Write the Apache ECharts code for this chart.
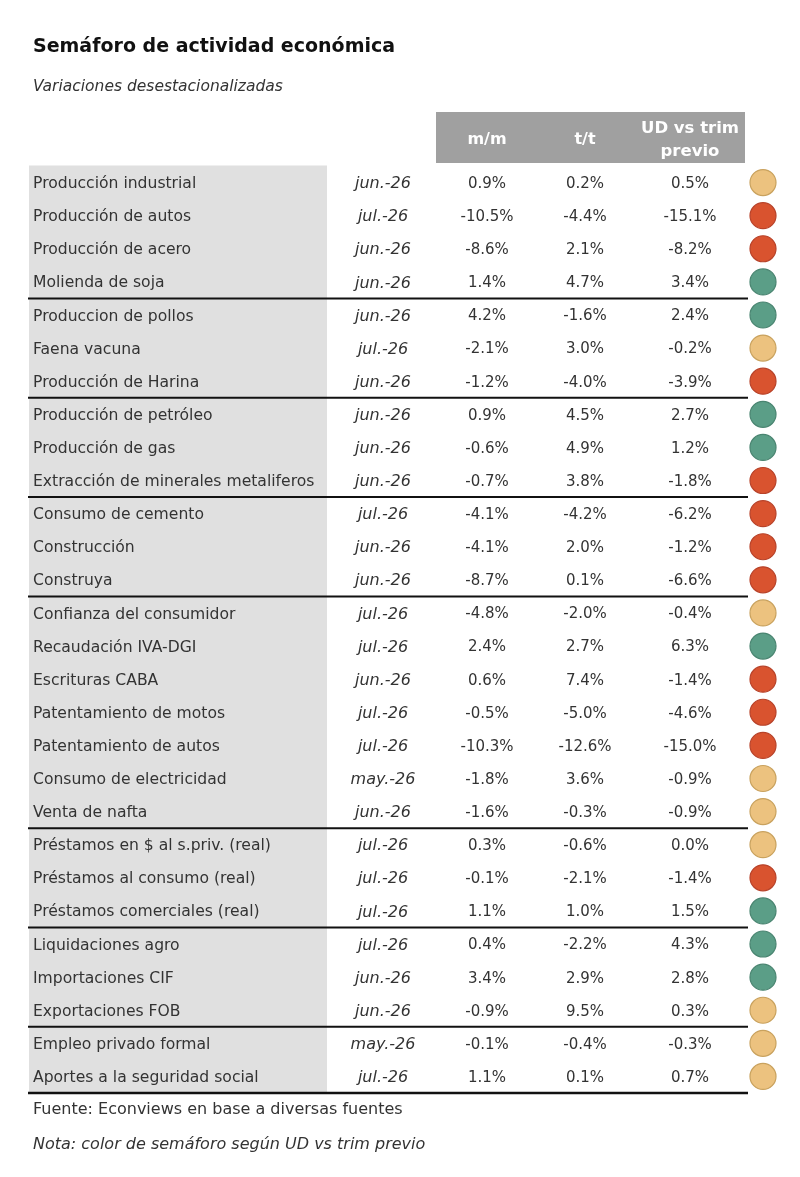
<!DOCTYPE html>
<html>
<head>
<meta charset="utf-8">
<script src="https://cdn.jsdelivr.net/npm/echarts@6/dist/echarts.min.js"></script>
<style>
html, body { margin: 0; padding: 0; background: #fff; }
#semaforo { width: 800px; height: 1177px; }
</style>
</head>
<body>
<div id="semaforo"></div>
<script>
// datos del cuadro
var indicadores = ['Producción industrial', 'Producción de autos', 'Producción de acero', 'Molienda de soja',
	'Produccion de pollos', 'Faena vacuna', 'Producción de Harina',
	'Producción de petróleo', 'Producción de gas', 'Extracción de minerales metaliferos',
	'Consumo de cemento', 'Construcción', 'Construya',
	'Confianza del consumidor', 'Recaudación IVA-DGI', 'Escrituras CABA', 'Patentamiento de motos',
	'Patentamiento de autos', 'Consumo de electricidad', 'Venta de nafta',
	'Préstamos en $ al s.priv. (real)', 'Préstamos al consumo (real)', 'Préstamos comerciales (real)',
	'Liquidaciones agro', 'Importaciones CIF', 'Exportaciones FOB',
	'Empleo privado formal', 'Aportes a la seguridad social'];
var fechas = ['jun.-26', 'jul.-26', 'jun.-26', 'jun.-26', 'jun.-26', 'jul.-26', 'jun.-26',
	'jun.-26', 'jun.-26', 'jun.-26', 'jul.-26', 'jun.-26', 'jun.-26', 'jul.-26',
	'jul.-26', 'jun.-26', 'jul.-26', 'jul.-26', 'may.-26', 'jun.-26', 'jul.-26',
	'jul.-26', 'jul.-26', 'jul.-26', 'jun.-26', 'jun.-26', 'may.-26', 'jul.-26'];
var mm = [0.9, -10.5, -8.6, 1.4, 4.2, -2.1, -1.2, 0.9, -0.6, -0.7, -4.1, -4.1, -8.7, -4.8,
	2.4, 0.6, -0.5, -10.3, -1.8, -1.6, 0.3, -0.1, 1.1, 0.4, 3.4, -0.9, -0.1, 1.1];
var tt = [0.2, -4.4, 2.1, 4.7, -1.6, 3.0, -4.0, 4.5, 4.9, 3.8, -4.2, 2.0, 0.1, -2.0,
	2.7, 7.4, -5.0, -12.6, 3.6, -0.3, -0.6, -2.1, 1.0, -2.2, 2.9, 9.5, -0.4, 0.1];
var udTrim = [0.5, -15.1, -8.2, 3.4, 2.4, -0.2, -3.9, 2.7, 1.2, -1.8, -6.2, -1.2, -6.6, -0.4,
	6.3, -1.4, -4.6, -15.0, -0.9, -0.9, 0.0, -1.4, 1.5, 4.3, 2.8, 0.3, -0.3, 0.7];
var semaforo = ['amarillo', 'rojo', 'rojo', 'verde', 'verde', 'amarillo', 'rojo',
	'verde', 'verde', 'rojo', 'rojo', 'rojo', 'rojo', 'amarillo',
	'verde', 'rojo', 'rojo', 'rojo', 'amarillo', 'amarillo', 'amarillo',
	'rojo', 'verde', 'verde', 'verde', 'amarillo', 'amarillo', 'amarillo'];
// filas que cierran un bloque (linea negra debajo)
var finBloque = [3, 6, 9, 12, 19, 22, 25, 27];
var encabezados = ['m/m', 't/t', 'UD vs trim\nprevio'];

var coloresSemaforo = {
	amarillo : { fill : '#ecc27f', stroke : '#c9a25e' },
	rojo : { fill : '#d9532f', stroke : '#b8432a' },
	verde : { fill : '#5b9e87', stroke : '#4a8571' }
};

// posiciones de columnas (en px sobre el eje x de 0 a 800)
var colTexto = 33, colBanda = [29, 327], colFecha = 383;
var colValores = [487, 585, 690], colSemaforo = 763, colLinea = [28, 748];
var fuente = 'DejaVu Sans';
var dy = 1.5; // pequeño ajuste vertical del texto

var fmt = function(v) {
	return v.toFixed(1) + '%';
};

var filas = [];
for (var i = 0; i < indicadores.length; i++) {
	filas.push([0, i]);
}

var chart = echarts.init(document.getElementById('semaforo'));

var option = {
	animation : false,
	title : [ {
		text : 'Semáforo de actividad económica',
		left : 28,
		top : 33,
		textStyle : { fontFamily : fuente, fontSize : 19, fontWeight : 'bold', color : '#111' }
	}, {
		text : 'Variaciones desestacionalizadas',
		left : 28,
		top : 74,
		textStyle : { fontFamily : fuente, fontSize : 15.5, fontStyle : 'italic', fontWeight : 'normal', color : '#333' }
	} ],
	grid : { left : 0, right : 0, top : 166, bottom : 84 },
	xAxis : { type : 'value', min : 0, max : 800, show : false },
	yAxis : { type : 'category', data : indicadores, inverse : true, show : false },
	graphic : [ {
		type : 'rect',
		shape : { x : 436, y : 112, width : 309, height : 51 },
		style : { fill : '#a0a0a0' }
	}, {
		type : 'text', x : colValores[0], y : 140,
		style : { text : encabezados[0], fill : '#fff', font : 'bold 16px "' + fuente + '"', align : 'center', verticalAlign : 'middle' }
	}, {
		type : 'text', x : colValores[1], y : 140,
		style : { text : encabezados[1], fill : '#fff', font : 'bold 16px "' + fuente + '"', align : 'center', verticalAlign : 'middle' }
	}, {
		type : 'text', x : colValores[2], y : 140,
		style : { text : encabezados[2], fill : '#fff', font : 'bold 16.5px "' + fuente + '"', align : 'center', verticalAlign : 'middle', lineHeight : 23 }
	}, {
		type : 'text', x : 33, y : 1110,
		style : { text : 'Fuente: Econviews en base a diversas fuentes', fill : '#333', font : '16px "' + fuente + '"', verticalAlign : 'middle' }
	}, {
		type : 'text', x : 33, y : 1145,
		style : { text : 'Nota: color de semáforo según UD vs trim previo', fill : '#333', font : 'italic 16px "' + fuente + '"', verticalAlign : 'middle' }
	} ],
	series : [ {
		// banda gris de la columna de nombres
		type : 'custom',
		z : 1,
		data : filas,
		renderItem : function(params, api) {
			var idx = api.value(1);
			var yc = api.coord([0, idx])[1];
			var h = api.size([0, 1])[1];
			var x0 = api.coord([colBanda[0], idx])[0];
			var x1 = api.coord([colBanda[1], idx])[0];
			return {
				type : 'rect',
				shape : { x : x0, y : yc - h / 2 - 0.5, width : x1 - x0, height : h + 1 },
				style : { fill : '#e0e0e0' }
			};
		}
	}, {
		type : 'custom',
		z : 2,
		data : filas,
		renderItem : function(params, api) {
			var idx = api.value(1);
			var yc = api.coord([0, idx])[1];
			var h = api.size([0, 1])[1];
			var kids = [];
			kids.push({
				type : 'text',
				style : { x : api.coord([colTexto, idx])[0], y : yc + dy, text : indicadores[idx],
					fill : '#333', font : '15.6px "' + fuente + '"', verticalAlign : 'middle' }
			});
			kids.push({
				type : 'text',
				style : { x : api.coord([colFecha, idx])[0], y : yc + dy, text : fechas[idx],
					fill : '#333', font : 'italic 16px "' + fuente + '"', align : 'center', verticalAlign : 'middle' }
			});
			var vals = [mm[idx], tt[idx], udTrim[idx]];
			for (var k = 0; k < vals.length; k++) {
				kids.push({
					type : 'text',
					style : { x : api.coord([colValores[k], idx])[0], y : yc + dy, text : fmt(vals[k]),
						fill : '#333', font : '15px "' + fuente + '"', align : 'center', verticalAlign : 'middle' }
				});
			}
			var c = coloresSemaforo[semaforo[idx]];
			kids.push({
				type : 'circle',
				shape : { cx : api.coord([colSemaforo, idx])[0], cy : yc, r : 13 },
				style : { fill : c.fill, stroke : c.stroke, lineWidth : 1.2 }
			});
			if (finBloque.indexOf(idx) >= 0) {
				var yl = yc + h / 2;
				kids.push({
					type : 'line',
					shape : { x1 : api.coord([colLinea[0], idx])[0], y1 : yl, x2 : api.coord([colLinea[1], idx])[0], y2 : yl },
					style : { stroke : '#111', lineWidth : idx === indicadores.length - 1 ? 2.5 : 2 }
				});
			}
			return { type : 'group', children : kids };
		}
	} ]
};
chart.setOption(option);
</script>
</body>
</html>
